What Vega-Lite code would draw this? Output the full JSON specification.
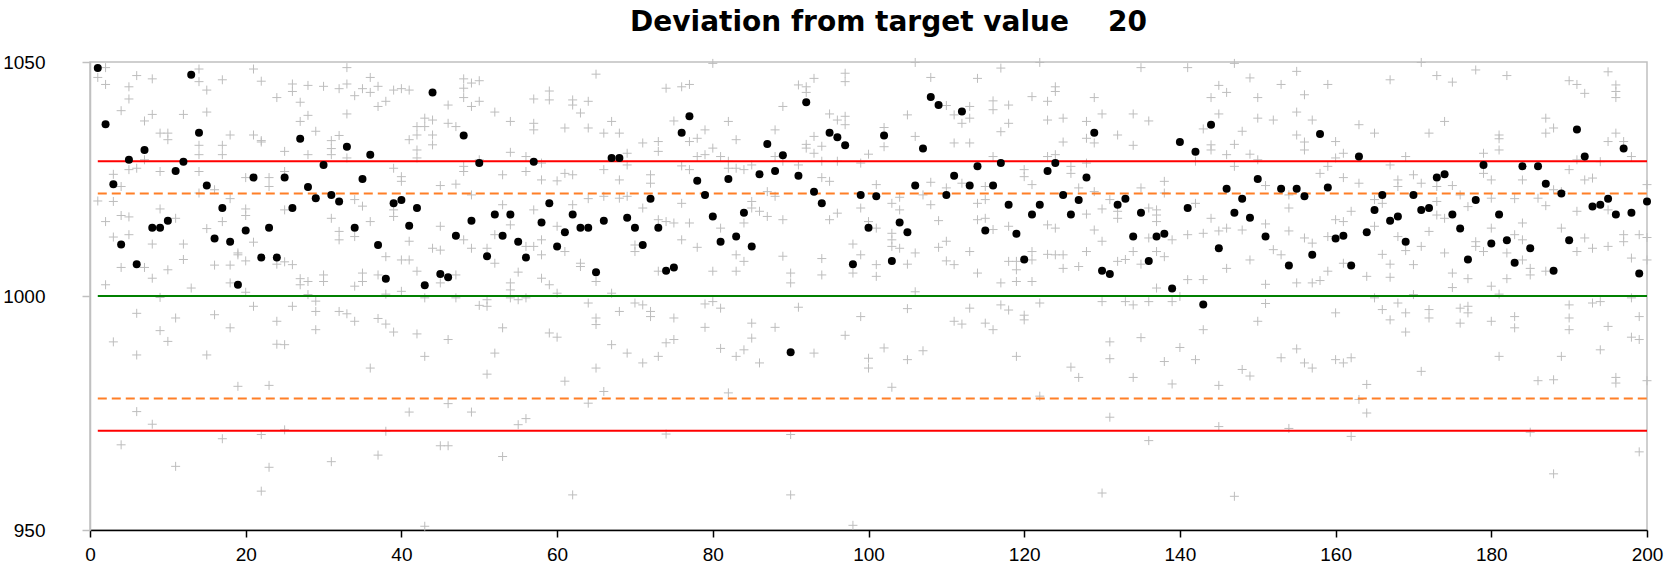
{
  "$schema": "https://vega.github.io/schema/vega-lite/v6.json",
  "width": 1557,
  "height": 468,
  "autosize": {"type": "none"},
  "padding": {"left": 90, "top": 62, "right": 33, "bottom": 47},
  "background": "white",
  "title": {
    "text": "Deviation from target value\u00a0\u00a0\u00a0\u00a020",
    "font": "DejaVu Sans",
    "fontSize": 28,
    "fontWeight": "bold",
    "color": "black",
    "anchor": "middle",
    "frame": "group",
    "dx": 20,
    "dy": 26,
    "baseline": "alphabetic",
    "offset": 20
  },
  "config": {
    "view": {"stroke": "#c0c0c0", "strokeWidth": 1.5},
    "axis": {
      "labelFont": "Liberation Sans",
      "labelFontSize": 19,
      "labelColor": "black",
      "labelFlush": false,
      "labelOverlap": false,
      "format": "d",
      "grid": false,
      "title": null
    }
  },
  "datasets": {
    "samples": [
      {"n":1,"v":1048.7},{"n":2,"v":1036.7},{"n":3,"v":1023.9},{"n":4,"v":1011.0},{"n":5,"v":1029.1},
      {"n":6,"v":1006.8},{"n":7,"v":1031.2},{"n":8,"v":1014.6},{"n":9,"v":1014.6},{"n":10,"v":1016.1},
      {"n":11,"v":1026.7},{"n":12,"v":1028.7},{"n":13,"v":1047.3},{"n":14,"v":1034.9},{"n":15,"v":1023.6},
      {"n":16,"v":1012.3},{"n":17,"v":1018.8},{"n":18,"v":1011.6},{"n":19,"v":1002.4},{"n":20,"v":1014.0},
      {"n":21,"v":1025.3},{"n":22,"v":1008.2},{"n":23,"v":1014.6},{"n":24,"v":1008.2},{"n":25,"v":1025.3},
      {"n":26,"v":1018.8},{"n":27,"v":1033.6},{"n":28,"v":1023.3},{"n":29,"v":1020.9},{"n":30,"v":1028.0},
      {"n":31,"v":1021.6},{"n":32,"v":1020.2},{"n":33,"v":1031.9},{"n":34,"v":1014.6},{"n":35,"v":1025.0},
      {"n":36,"v":1030.2},{"n":37,"v":1010.9},{"n":38,"v":1003.7},{"n":39,"v":1019.8},{"n":40,"v":1020.5},
      {"n":41,"v":1015.0},{"n":42,"v":1018.8},{"n":43,"v":1002.3},{"n":44,"v":1043.5},{"n":45,"v":1004.7},
      {"n":46,"v":1004.0},{"n":47,"v":1012.9},{"n":48,"v":1034.3},{"n":49,"v":1016.1},{"n":50,"v":1028.4},
      {"n":51,"v":1008.5},{"n":52,"v":1017.4},{"n":53,"v":1012.9},{"n":54,"v":1017.4},{"n":55,"v":1011.6},
      {"n":56,"v":1008.2},{"n":57,"v":1028.7},{"n":58,"v":1015.7},{"n":59,"v":1019.8},{"n":60,"v":1010.6},
      {"n":61,"v":1013.6},{"n":62,"v":1017.4},{"n":63,"v":1014.6},{"n":64,"v":1014.6},{"n":65,"v":1005.1},
      {"n":66,"v":1016.1},{"n":67,"v":1029.5},{"n":68,"v":1029.5},{"n":69,"v":1016.7},{"n":70,"v":1014.6},
      {"n":71,"v":1010.9},{"n":72,"v":1020.8},{"n":73,"v":1014.6},{"n":74,"v":1005.4},{"n":75,"v":1006.1},
      {"n":76,"v":1034.9},{"n":77,"v":1038.4},{"n":78,"v":1024.6},{"n":79,"v":1021.6},{"n":80,"v":1017.0},
      {"n":81,"v":1011.6},{"n":82,"v":1025.0},{"n":83,"v":1012.7},{"n":84,"v":1017.8},{"n":85,"v":1010.6},
      {"n":86,"v":1026.0},{"n":87,"v":1032.5},{"n":88,"v":1026.7},{"n":89,"v":1030.1},{"n":90,"v":988.0},
      {"n":91,"v":1025.7},{"n":92,"v":1041.4},{"n":93,"v":1022.3},{"n":94,"v":1019.8},{"n":95,"v":1034.9},
      {"n":96,"v":1033.9},{"n":97,"v":1032.2},{"n":98,"v":1006.8},{"n":99,"v":1021.6},{"n":100,"v":1014.6},
      {"n":101,"v":1021.3},{"n":102,"v":1034.3},{"n":103,"v":1007.5},{"n":104,"v":1015.7},{"n":105,"v":1013.6},
      {"n":106,"v":1023.6},{"n":107,"v":1031.5},{"n":108,"v":1042.5},{"n":109,"v":1040.8},{"n":110,"v":1021.6},
      {"n":111,"v":1025.7},{"n":112,"v":1039.4},{"n":113,"v":1023.6},{"n":114,"v":1027.7},{"n":115,"v":1014.0},
      {"n":116,"v":1023.6},{"n":117,"v":1028.4},{"n":118,"v":1019.5},{"n":119,"v":1013.3},{"n":120,"v":1007.8},
      {"n":121,"v":1017.4},{"n":122,"v":1019.5},{"n":123,"v":1026.7},{"n":124,"v":1028.4},{"n":125,"v":1021.6},
      {"n":126,"v":1017.4},{"n":127,"v":1020.5},{"n":128,"v":1025.3},{"n":129,"v":1034.9},{"n":130,"v":1005.4},
      {"n":131,"v":1004.7},{"n":132,"v":1019.5},{"n":133,"v":1020.8},{"n":134,"v":1012.7},{"n":135,"v":1017.8},
      {"n":136,"v":1007.5},{"n":137,"v":1012.7},{"n":138,"v":1013.3},{"n":139,"v":1001.6},{"n":140,"v":1032.9},
      {"n":141,"v":1018.8},{"n":142,"v":1030.8},{"n":143,"v":998.2},{"n":144,"v":1036.6},{"n":145,"v":1010.2},
      {"n":146,"v":1022.9},{"n":147,"v":1017.8},{"n":148,"v":1020.8},{"n":149,"v":1016.7},{"n":150,"v":1025.0},
      {"n":151,"v":1012.7},{"n":153,"v":1022.9},{"n":154,"v":1006.5},{"n":155,"v":1022.9},
      {"n":156,"v":1021.3},{"n":157,"v":1008.8},{"n":158,"v":1034.6},{"n":159,"v":1023.2},{"n":160,"v":1012.3},
      {"n":161,"v":1012.9},{"n":162,"v":1006.5},{"n":163,"v":1029.8},{"n":164,"v":1013.6},{"n":165,"v":1018.4},
      {"n":166,"v":1021.6},{"n":167,"v":1016.1},{"n":168,"v":1017.0},{"n":169,"v":1011.6},{"n":170,"v":1021.6},
      {"n":171,"v":1018.4},{"n":172,"v":1018.8},{"n":173,"v":1025.3},{"n":174,"v":1026.0},{"n":175,"v":1017.4},
      {"n":176,"v":1014.4},{"n":177,"v":1007.8},{"n":178,"v":1020.5},{"n":179,"v":1028.0},{"n":180,"v":1011.2},
      {"n":181,"v":1017.4},{"n":182,"v":1011.9},{"n":183,"v":1007.1},{"n":184,"v":1027.7},{"n":185,"v":1010.2},
      {"n":186,"v":1027.7},{"n":187,"v":1024.0},{"n":188,"v":1005.4},{"n":189,"v":1021.9},{"n":190,"v":1011.9},
      {"n":191,"v":1035.6},{"n":192,"v":1029.8},{"n":193,"v":1019.1},{"n":194,"v":1019.5},{"n":195,"v":1020.8},
      {"n":196,"v":1017.4},{"n":197,"v":1031.5},{"n":198,"v":1017.8},{"n":199,"v":1004.8},{"n":200,"v":1020.2}
    ],
    "readings": [
      {"n":1,"v":1046.7},{"n":1,"v":1020.3},
      {"n":2,"v":1048.8},{"n":2,"v":1045.2},{"n":2,"v":1015.9},{"n":2,"v":1002.4},
      {"n":3,"v":1026.0},{"n":3,"v":1020.2},{"n":3,"v":1012.6},{"n":3,"v":990.2},
      {"n":4,"v":1039.6},{"n":4,"v":1023.4},{"n":4,"v":1017.2},{"n":4,"v":1006.1},{"n":4,"v":968.2},
      {"n":5,"v":1044.7},{"n":5,"v":1042.1},{"n":5,"v":1027.0},{"n":5,"v":1016.9},{"n":5,"v":1013.1},
      {"n":6,"v":1047.1},{"n":6,"v":1027.3},{"n":6,"v":996.3},{"n":6,"v":987.4},{"n":6,"v":975.3},
      {"n":7,"v":1037.4},{"n":7,"v":1029.1},{"n":7,"v":1006.1},
      {"n":8,"v":1046.4},{"n":8,"v":1038.8},{"n":8,"v":1011.1},{"n":8,"v":1003.8},{"n":8,"v":972.6},
      {"n":9,"v":1034.8},{"n":9,"v":1026.6},{"n":9,"v":1018.6},{"n":9,"v":999.7},{"n":9,"v":992.6},
      {"n":10,"v":1034.8},{"n":10,"v":1033.4},{"n":10,"v":1005.6},{"n":10,"v":990.3},
      {"n":11,"v":1016.6},{"n":11,"v":995.3},{"n":11,"v":963.6},
      {"n":12,"v":1038.8},{"n":12,"v":1011.1},{"n":12,"v":1007.8},
      {"n":13,"v":1001.7},
      {"n":14,"v":1048.5},{"n":14,"v":1045.8},{"n":14,"v":1032.2},{"n":14,"v":1030.2},{"n":14,"v":1026.6},{"n":14,"v":1022.0},
      {"n":15,"v":1044.0},{"n":15,"v":1039.3},{"n":15,"v":1014.4},{"n":15,"v":987.4},
      {"n":16,"v":1022.7},{"n":16,"v":1006.6},{"n":16,"v":996.0},
      {"n":17,"v":1046.2},{"n":17,"v":1032.2},{"n":17,"v":1030.2},{"n":17,"v":1015.9},{"n":17,"v":969.5},
      {"n":18,"v":1034.4},{"n":18,"v":1020.8},{"n":18,"v":1006.6},{"n":18,"v":1002.8},{"n":18,"v":993.2},
      {"n":19,"v":1009.2},{"n":19,"v":1008.8},{"n":19,"v":980.7},
      {"n":20,"v":1025.3},{"n":20,"v":1018.6},{"n":20,"v":1017.2},{"n":20,"v":1007.5},{"n":20,"v":1000.8},
      {"n":21,"v":1048.5},{"n":21,"v":1034.4},{"n":21,"v":1011.5},{"n":21,"v":997.8},
      {"n":22,"v":1045.9},{"n":22,"v":1033.2},{"n":22,"v":1032.9},{"n":22,"v":970.4},{"n":22,"v":958.3},
      {"n":23,"v":1025.3},{"n":23,"v":1023.4},{"n":23,"v":980.9},{"n":23,"v":963.4},
      {"n":24,"v":1042.4},{"n":24,"v":1006.8},{"n":24,"v":994.6},{"n":24,"v":989.7},
      {"n":25,"v":1030.9},{"n":25,"v":1026.6},{"n":25,"v":1018.4},{"n":25,"v":1007.3},{"n":25,"v":989.6},{"n":25,"v":971.4},
      {"n":26,"v":1045.3},{"n":26,"v":1043.7},{"n":26,"v":1006.7},{"n":26,"v":997.8},
      {"n":27,"v":1041.4},{"n":27,"v":1037.3},{"n":27,"v":1003.7},{"n":27,"v":1002.4},
      {"n":28,"v":1045.0},{"n":28,"v":1038.6},{"n":28,"v":1030.2},{"n":28,"v":1003.1},{"n":28,"v":1000.3},
      {"n":29,"v":1035.2},{"n":29,"v":998.9},{"n":29,"v":996.7},{"n":29,"v":992.8},
      {"n":30,"v":1044.8},{"n":30,"v":1004.5},{"n":30,"v":1003.1},
      {"n":31,"v":1033.2},{"n":31,"v":1031.5},{"n":31,"v":1030.2},{"n":31,"v":1016.6},{"n":31,"v":964.6},
      {"n":32,"v":1044.3},{"n":32,"v":1034.3},{"n":32,"v":1013.8},{"n":32,"v":1012.0},{"n":32,"v":996.7},
      {"n":33,"v":1048.8},{"n":33,"v":1045.3},{"n":33,"v":1038.9},{"n":33,"v":1029.5},{"n":33,"v":996.2},
      {"n":34,"v":1042.8},{"n":34,"v":1020.6},{"n":34,"v":1012.7},{"n":34,"v":1002.1},{"n":34,"v":994.6},
      {"n":35,"v":1044.3},{"n":35,"v":1019.2},{"n":35,"v":1004.9},{"n":35,"v":1003.1},
      {"n":36,"v":1046.7},{"n":36,"v":1043.5},{"n":36,"v":1015.9},{"n":36,"v":984.6},
      {"n":37,"v":1044.8},{"n":37,"v":1040.5},{"n":37,"v":1004.5},{"n":37,"v":995.2},{"n":37,"v":966.0},
      {"n":38,"v":1041.6},{"n":38,"v":1008.4},{"n":38,"v":1000.4},{"n":38,"v":994.0},{"n":38,"v":971.1},
      {"n":39,"v":1044.0},{"n":39,"v":1027.3},{"n":39,"v":1018.4},{"n":39,"v":1017.0},{"n":39,"v":992.3},
      {"n":40,"v":1044.3},{"n":40,"v":1025.5},{"n":40,"v":1024.5},{"n":40,"v":1007.7},{"n":40,"v":1001.0},
      {"n":41,"v":1044.0},{"n":41,"v":1033.4},{"n":41,"v":1011.7},{"n":41,"v":1007.7},{"n":41,"v":975.2},
      {"n":42,"v":1036.2},{"n":42,"v":1034.4},{"n":42,"v":1031.2},{"n":42,"v":1029.5},{"n":42,"v":1005.3},{"n":42,"v":991.9},
      {"n":43,"v":1038.0},{"n":43,"v":1036.2},{"n":43,"v":999.6},{"n":43,"v":987.1},{"n":43,"v":950.8},
      {"n":44,"v":1037.6},{"n":44,"v":1034.4},{"n":44,"v":1032.3},{"n":44,"v":1010.2},
      {"n":45,"v":1023.6},{"n":45,"v":1014.9},{"n":45,"v":1009.8},{"n":45,"v":1002.8},{"n":45,"v":968.0},
      {"n":46,"v":1040.8},{"n":46,"v":1036.9},{"n":46,"v":990.7},{"n":46,"v":977.0},{"n":46,"v":968.0},
      {"n":47,"v":1036.2},{"n":47,"v":1023.9},{"n":47,"v":1004.5},{"n":47,"v":999.6},
      {"n":48,"v":1046.4},{"n":48,"v":1044.4},{"n":48,"v":1042.4},{"n":48,"v":1027.7},{"n":48,"v":1026.6},{"n":48,"v":1012.0},
      {"n":49,"v":1045.5},{"n":49,"v":1040.5},{"n":49,"v":1021.6},{"n":49,"v":1010.2},{"n":49,"v":975.2},
      {"n":50,"v":1046.0},{"n":50,"v":1041.6},{"n":50,"v":1029.1},{"n":50,"v":998.0},
      {"n":51,"v":1010.2},{"n":51,"v":999.2},{"n":51,"v":997.8},{"n":51,"v":983.3},
      {"n":52,"v":1039.3},{"n":52,"v":1013.1},{"n":52,"v":1007.0},{"n":52,"v":987.8},
      {"n":53,"v":1025.9},{"n":53,"v":1019.5},{"n":53,"v":993.2},{"n":53,"v":965.7},
      {"n":54,"v":1037.3},{"n":54,"v":1030.7},{"n":54,"v":1015.2},{"n":54,"v":1002.8},{"n":54,"v":1001.3},{"n":54,"v":999.6},
      {"n":55,"v":1005.1},{"n":55,"v":999.2},{"n":55,"v":972.5},
      {"n":56,"v":1029.8},{"n":56,"v":1026.6},{"n":56,"v":1010.6},{"n":56,"v":999.6},{"n":56,"v":973.8},
      {"n":57,"v":1042.1},{"n":57,"v":1036.9},{"n":57,"v":1035.5},{"n":57,"v":1018.4},{"n":57,"v":1010.6},
      {"n":58,"v":1028.4},{"n":58,"v":1024.8},{"n":58,"v":1012.0},{"n":58,"v":1008.8},{"n":58,"v":1003.8},
      {"n":59,"v":1043.8},{"n":59,"v":1041.9},{"n":59,"v":1002.4},{"n":59,"v":992.1},
      {"n":60,"v":1024.6},{"n":60,"v":1014.9},{"n":60,"v":1000.6},{"n":60,"v":991.2},
      {"n":61,"v":1035.9},{"n":61,"v":1026.2},{"n":61,"v":1009.5},{"n":61,"v":981.8},
      {"n":62,"v":1041.9},{"n":62,"v":1040.8},{"n":62,"v":1025.9},{"n":62,"v":1019.5},{"n":62,"v":957.5},
      {"n":63,"v":1039.1},{"n":63,"v":1007.0},{"n":63,"v":1006.3},
      {"n":64,"v":1041.6},{"n":64,"v":1035.9},{"n":64,"v":1020.8},{"n":64,"v":998.5},{"n":64,"v":977.1},
      {"n":65,"v":1047.4},{"n":65,"v":1003.1},{"n":65,"v":995.3},{"n":65,"v":993.9},{"n":65,"v":984.6},
      {"n":66,"v":1034.8},{"n":66,"v":1027.0},{"n":66,"v":1021.3},{"n":66,"v":979.6},
      {"n":67,"v":1037.3},{"n":67,"v":1000.6},{"n":67,"v":989.6},
      {"n":68,"v":1034.8},{"n":68,"v":1024.8},{"n":68,"v":1020.9},{"n":68,"v":996.7},
      {"n":69,"v":1030.5},{"n":69,"v":1028.0},{"n":69,"v":1021.3},{"n":69,"v":987.8},
      {"n":70,"v":1010.9},{"n":70,"v":1009.5},{"n":70,"v":998.5},
      {"n":71,"v":1032.7},{"n":71,"v":1018.8},{"n":71,"v":998.1},{"n":71,"v":985.7},
      {"n":72,"v":1025.9},{"n":72,"v":1024.1},{"n":72,"v":996.7},{"n":72,"v":995.6},
      {"n":73,"v":1033.0},{"n":73,"v":1030.9},{"n":73,"v":1016.3},{"n":73,"v":1005.3},{"n":73,"v":987.1},
      {"n":74,"v":1044.4},{"n":74,"v":1015.9},{"n":74,"v":990.0},{"n":74,"v":970.5},
      {"n":75,"v":1037.4},{"n":75,"v":1015.6},{"n":75,"v":995.3},{"n":75,"v":990.7},
      {"n":76,"v":1044.7},{"n":76,"v":1027.8},{"n":76,"v":1019.8},{"n":76,"v":1012.0},
      {"n":77,"v":1045.2},{"n":77,"v":1033.0},{"n":77,"v":1027.0},{"n":77,"v":1015.6},
      {"n":78,"v":1033.7},{"n":78,"v":1029.8},{"n":78,"v":1010.4},
      {"n":79,"v":1035.5},{"n":79,"v":1030.2},{"n":79,"v":998.3},{"n":79,"v":993.3},
      {"n":80,"v":1049.7},{"n":80,"v":1031.6},{"n":80,"v":1005.3},{"n":80,"v":998.8},
      {"n":81,"v":1029.8},{"n":81,"v":1014.5},{"n":81,"v":997.4},{"n":81,"v":988.8},
      {"n":82,"v":1037.3},{"n":82,"v":1028.8},{"n":82,"v":1027.3},{"n":82,"v":979.3},
      {"n":83,"v":1033.4},{"n":83,"v":1027.3},{"n":83,"v":1008.8},{"n":83,"v":1005.3},{"n":83,"v":987.1},
      {"n":84,"v":1027.0},{"n":84,"v":1015.6},{"n":84,"v":1007.4},{"n":84,"v":988.5},
      {"n":85,"v":1028.0},{"n":85,"v":1020.2},{"n":85,"v":1018.8},{"n":85,"v":994.2},{"n":85,"v":991.0},
      {"n":86,"v":1018.1},{"n":86,"v":985.7},
      {"n":87,"v":1022.3},{"n":87,"v":1017.0},
      {"n":88,"v":1035.5},{"n":88,"v":1029.8},{"n":88,"v":1021.3},{"n":88,"v":993.3},
      {"n":89,"v":1040.5},{"n":89,"v":1028.8},{"n":89,"v":1016.3},{"n":89,"v":1008.5},
      {"n":90,"v":1004.9},{"n":90,"v":1002.8},{"n":90,"v":970.4},{"n":90,"v":957.5},
      {"n":91,"v":1045.1},{"n":91,"v":1028.0},{"n":91,"v":997.6},
      {"n":92,"v":1044.7},{"n":92,"v":1043.5},{"n":92,"v":1032.4},{"n":92,"v":1031.6},
      {"n":93,"v":1046.5},{"n":93,"v":1034.1},{"n":93,"v":1030.5},{"n":93,"v":987.8},
      {"n":94,"v":1032.0},{"n":94,"v":1028.8},{"n":94,"v":1025.3},{"n":94,"v":1008.0},{"n":94,"v":1004.5},
      {"n":95,"v":1038.9},{"n":95,"v":1024.5},{"n":95,"v":1016.3},
      {"n":96,"v":1037.6},{"n":96,"v":1028.8},{"n":96,"v":1017.7},
      {"n":97,"v":1047.6},{"n":97,"v":1045.8},{"n":97,"v":1038.4},{"n":97,"v":1036.6},{"n":97,"v":991.6},
      {"n":98,"v":1011.1},{"n":98,"v":1004.9},{"n":98,"v":951.0},
      {"n":99,"v":1028.4},{"n":99,"v":1018.8},{"n":99,"v":1008.8},{"n":99,"v":995.6},
      {"n":100,"v":1030.3},{"n":100,"v":1015.9},{"n":100,"v":986.7},{"n":100,"v":984.6},
      {"n":101,"v":1023.8},{"n":101,"v":1014.5},{"n":101,"v":1006.7},{"n":101,"v":1004.2},
      {"n":102,"v":1036.0},{"n":102,"v":1031.9},{"n":102,"v":988.9},
      {"n":103,"v":1019.8},{"n":103,"v":1013.4},{"n":103,"v":1012.0},{"n":103,"v":1010.6},{"n":103,"v":980.5},
      {"n":104,"v":1021.1},{"n":104,"v":1018.4},{"n":104,"v":1010.2},
      {"n":105,"v":1038.7},{"n":105,"v":1006.8},{"n":105,"v":997.3},{"n":105,"v":986.4},
      {"n":106,"v":1049.9},{"n":106,"v":1034.1},{"n":106,"v":1009.2},{"n":106,"v":1000.9},
      {"n":107,"v":1021.6},{"n":107,"v":988.3},
      {"n":108,"v":1046.7},{"n":108,"v":1024.3},{"n":108,"v":1019.5},
      {"n":109,"v":1016.1},{"n":109,"v":1010.4},
      {"n":110,"v":1040.7},{"n":110,"v":1023.1},{"n":110,"v":1011.7},{"n":110,"v":1007.5},
      {"n":111,"v":1038.7},{"n":111,"v":1032.7},{"n":111,"v":1006.7},{"n":111,"v":994.6},
      {"n":112,"v":1036.9},{"n":112,"v":1024.1},{"n":112,"v":994.0},
      {"n":113,"v":1040.5},{"n":113,"v":1038.0},{"n":113,"v":1032.7},{"n":113,"v":1009.5},{"n":113,"v":997.4},
      {"n":114,"v":1046.5},{"n":114,"v":1019.8},{"n":114,"v":1016.3},{"n":114,"v":1004.9},
      {"n":115,"v":1023.4},{"n":115,"v":1020.6},{"n":115,"v":1016.6},{"n":115,"v":994.2},
      {"n":116,"v":1041.7},{"n":116,"v":1039.8},{"n":116,"v":1029.8},{"n":116,"v":1014.2},{"n":116,"v":992.8},
      {"n":117,"v":1048.7},{"n":117,"v":1035.1},{"n":117,"v":1002.8},{"n":117,"v":998.1},
      {"n":118,"v":1040.8},{"n":118,"v":1036.9},{"n":118,"v":1014.9},{"n":118,"v":1007.4},{"n":118,"v":997.0},
      {"n":119,"v":1007.4},{"n":119,"v":1005.6},{"n":119,"v":1003.1},{"n":119,"v":987.1},
      {"n":120,"v":1027.0},{"n":120,"v":1025.5},{"n":120,"v":995.9},{"n":120,"v":994.9},
      {"n":121,"v":1042.6},{"n":121,"v":1023.8},{"n":121,"v":1009.5},{"n":121,"v":1007.7},{"n":121,"v":1003.1},
      {"n":122,"v":1049.9},{"n":122,"v":998.5},{"n":122,"v":978.6},
      {"n":123,"v":1041.6},{"n":123,"v":1037.6},{"n":123,"v":1029.8},{"n":123,"v":1015.2},{"n":123,"v":1008.9},
      {"n":124,"v":1044.7},{"n":124,"v":1043.7},{"n":124,"v":1030.2},{"n":124,"v":1014.5},{"n":124,"v":1008.8},
      {"n":125,"v":1038.0},{"n":125,"v":1032.9},{"n":125,"v":1008.8},{"n":125,"v":1005.9},
      {"n":126,"v":1027.7},{"n":126,"v":1026.2},{"n":126,"v":984.8},
      {"n":127,"v":1023.1},{"n":127,"v":1006.3},{"n":127,"v":982.6},
      {"n":128,"v":1037.3},{"n":128,"v":1033.7},{"n":128,"v":1028.4},{"n":128,"v":1017.5},{"n":128,"v":1009.5},
      {"n":129,"v":1042.4},{"n":129,"v":1032.7},{"n":129,"v":1022.3},{"n":129,"v":1014.1},
      {"n":130,"v":1038.9},{"n":130,"v":1018.6},{"n":130,"v":1011.7},{"n":130,"v":998.8},{"n":130,"v":957.9},
      {"n":131,"v":1020.6},{"n":131,"v":990.2},{"n":131,"v":986.6},{"n":131,"v":974.1},
      {"n":132,"v":1034.4},{"n":132,"v":1018.1},{"n":132,"v":1016.6},{"n":132,"v":1007.4},
      {"n":133,"v":1007.8},{"n":133,"v":998.8},
      {"n":134,"v":1038.9},{"n":134,"v":1032.2},{"n":134,"v":1009.5},{"n":134,"v":998.1},{"n":134,"v":982.6},
      {"n":135,"v":1048.8},{"n":135,"v":1023.1},{"n":135,"v":1006.8},{"n":135,"v":991.1},
      {"n":136,"v":1037.4},{"n":136,"v":1018.8},{"n":136,"v":1012.4},{"n":136,"v":998.8},{"n":136,"v":969.1},
      {"n":137,"v":1018.4},{"n":137,"v":1017.3},{"n":137,"v":1015.9},{"n":137,"v":1009.5},{"n":137,"v":1001.7},
      {"n":138,"v":1024.5},{"n":138,"v":1022.0},{"n":138,"v":1008.4},{"n":138,"v":986.0},
      {"n":139,"v":1012.0},{"n":139,"v":998.8},{"n":139,"v":981.2},
      {"n":140,"v":999.9},{"n":140,"v":989.0},
      {"n":141,"v":1048.8},{"n":141,"v":1013.1},{"n":141,"v":1003.5},
      {"n":142,"v":1028.8},{"n":142,"v":1019.8},{"n":142,"v":986.4},
      {"n":143,"v":1035.7},{"n":143,"v":1013.4},{"n":143,"v":1003.5},{"n":143,"v":992.8},
      {"n":144,"v":1042.4},{"n":144,"v":1032.3},{"n":144,"v":1031.2},{"n":144,"v":1016.6},
      {"n":145,"v":1045.0},{"n":145,"v":1038.9},{"n":145,"v":1013.9},{"n":145,"v":980.9},{"n":145,"v":972.1},
      {"n":146,"v":1043.5},{"n":146,"v":1030.2},{"n":146,"v":1014.5},{"n":146,"v":1005.9},
      {"n":147,"v":1049.7},{"n":147,"v":1032.4},{"n":147,"v":1027.7},{"n":147,"v":957.2},
      {"n":148,"v":1035.2},{"n":148,"v":1014.1},{"n":148,"v":984.3},
      {"n":149,"v":1046.6},{"n":149,"v":1030.3},{"n":149,"v":1007.7},{"n":149,"v":982.9},
      {"n":150,"v":1042.4},{"n":150,"v":1038.0},{"n":150,"v":1029.1},{"n":150,"v":994.6},
      {"n":151,"v":1023.6},{"n":151,"v":1015.4},{"n":151,"v":1002.5},{"n":151,"v":998.4},
      {"n":152,"v":1037.6},{"n":152,"v":1009.9},
      {"n":153,"v":1045.2},{"n":153,"v":1008.8},{"n":153,"v":986.8},
      {"n":154,"v":1021.6},{"n":154,"v":1018.8},{"n":154,"v":1013.9},{"n":154,"v":971.7},
      {"n":155,"v":1048.0},{"n":155,"v":1039.3},{"n":155,"v":1034.4},{"n":155,"v":1002.8},{"n":155,"v":988.7},
      {"n":156,"v":1043.0},{"n":156,"v":1032.9},{"n":156,"v":1031.2},{"n":156,"v":1012.4},{"n":156,"v":985.7},
      {"n":157,"v":1037.6},{"n":157,"v":1011.3},{"n":157,"v":1002.8},{"n":157,"v":984.6},
      {"n":158,"v":1026.2},{"n":158,"v":1003.3},
      {"n":159,"v":1045.2},{"n":159,"v":1027.7},{"n":159,"v":1012.7},{"n":159,"v":1005.3},
      {"n":160,"v":1033.0},{"n":160,"v":1029.5},{"n":160,"v":1016.3},{"n":160,"v":996.4},{"n":160,"v":986.4},
      {"n":161,"v":1030.5},{"n":161,"v":1025.3},{"n":161,"v":1015.9},{"n":161,"v":1007.0},{"n":161,"v":985.7},
      {"n":162,"v":1018.1},{"n":162,"v":986.8},{"n":162,"v":970.0},
      {"n":163,"v":1036.6},{"n":163,"v":1024.1},{"n":163,"v":977.9},
      {"n":164,"v":1004.2},{"n":164,"v":981.1},{"n":164,"v":975.0},
      {"n":165,"v":1034.8},{"n":165,"v":1020.6},{"n":165,"v":1014.9},{"n":165,"v":999.6},
      {"n":166,"v":1019.8},{"n":166,"v":1008.9},{"n":166,"v":997.1},
      {"n":167,"v":1046.2},{"n":167,"v":1028.0},{"n":167,"v":1006.8},{"n":167,"v":1004.0},{"n":167,"v":994.9},
      {"n":168,"v":1024.8},{"n":168,"v":1023.4},{"n":168,"v":1012.7},{"n":168,"v":998.5},
      {"n":169,"v":1029.8},{"n":169,"v":1009.7},{"n":169,"v":996.4},{"n":169,"v":992.3},
      {"n":170,"v":1025.9},{"n":170,"v":1006.7},{"n":170,"v":1000.3},
      {"n":171,"v":1049.9},{"n":171,"v":1024.1},{"n":171,"v":1010.6},{"n":171,"v":983.9},
      {"n":172,"v":1034.8},{"n":172,"v":1013.8},{"n":172,"v":997.1},{"n":172,"v":995.3},
      {"n":173,"v":1047.1},{"n":173,"v":1023.4},{"n":173,"v":1020.2},{"n":173,"v":1017.3},
      {"n":174,"v":1037.3},{"n":174,"v":1016.6},{"n":174,"v":1009.2},
      {"n":175,"v":1045.7},{"n":175,"v":1023.6},{"n":175,"v":1004.9},{"n":175,"v":1001.8},
      {"n":176,"v":1021.6},{"n":176,"v":997.4},{"n":176,"v":994.2},
      {"n":177,"v":1019.1},{"n":177,"v":1003.7},{"n":177,"v":997.8},{"n":177,"v":996.4},
      {"n":178,"v":1048.3},{"n":178,"v":1011.6},{"n":178,"v":1010.6},
      {"n":179,"v":1030.5},{"n":179,"v":1026.2},{"n":179,"v":1009.5},
      {"n":180,"v":1024.8},{"n":180,"v":1020.9},{"n":180,"v":1014.5},{"n":180,"v":1002.1},{"n":180,"v":994.6},
      {"n":181,"v":1034.4},{"n":181,"v":1033.6},{"n":181,"v":1031.2},{"n":181,"v":1000.4},{"n":181,"v":987.1},
      {"n":182,"v":1047.1},{"n":182,"v":1009.2},{"n":182,"v":1003.7},
      {"n":183,"v":1020.8},{"n":183,"v":1013.1},{"n":183,"v":995.6},{"n":183,"v":993.2},
      {"n":184,"v":1024.8},{"n":184,"v":1015.6},{"n":184,"v":1012.0},{"n":184,"v":1007.7},
      {"n":185,"v":1005.9},{"n":185,"v":1004.5},{"n":185,"v":970.9},
      {"n":186,"v":1020.9},{"n":186,"v":981.9},
      {"n":187,"v":1038.0},{"n":187,"v":1034.8},{"n":187,"v":1019.3},{"n":187,"v":1005.3},
      {"n":188,"v":1035.9},{"n":188,"v":1022.7},{"n":188,"v":982.1},{"n":188,"v":962.0},
      {"n":189,"v":1022.3},{"n":189,"v":1014.5},{"n":189,"v":987.1},
      {"n":190,"v":1046.0},{"n":190,"v":1027.0},{"n":190,"v":998.1},{"n":190,"v":995.3},{"n":190,"v":992.8},
      {"n":191,"v":1045.2},{"n":191,"v":1029.1},{"n":191,"v":1018.1},{"n":191,"v":1009.5},
      {"n":192,"v":1043.3},{"n":192,"v":1024.8},{"n":192,"v":1012.4},
      {"n":193,"v":1025.2},{"n":193,"v":1010.2},{"n":193,"v":998.5},
      {"n":194,"v":1028.7},{"n":194,"v":998.8},{"n":194,"v":988.5},
      {"n":195,"v":1047.9},{"n":195,"v":1033.0},{"n":195,"v":1018.4},{"n":195,"v":1010.6},{"n":195,"v":993.5},
      {"n":196,"v":1045.1},{"n":196,"v":1043.7},{"n":196,"v":1042.4},{"n":196,"v":1034.8},{"n":196,"v":982.6},{"n":196,"v":981.4},
      {"n":197,"v":1033.0},{"n":197,"v":1013.1},{"n":197,"v":1011.6},
      {"n":198,"v":1029.8},{"n":198,"v":1008.1},{"n":198,"v":999.6},{"n":198,"v":991.2},
      {"n":199,"v":1013.1},{"n":199,"v":995.6},{"n":199,"v":990.7},{"n":199,"v":966.7},
      {"n":200,"v":1023.8},{"n":200,"v":1012.5},{"n":200,"v":1007.7},{"n":200,"v":981.9}
    ],
    "limits": [
      {"level": 1000, "line": "target"},
      {"level": 1021.9, "line": "warning"},
      {"level": 978.1, "line": "warning"},
      {"level": 1028.8, "line": "action"},
      {"level": 971.2, "line": "action"}
    ]
  },
  "layer": [
    {
      "data": {"name": "readings"},
      "mark": {
        "type": "point",
        "shape": "M-1,0H1M0,-1V1",
        "filled": false,
        "stroke": "#bdbdbd",
        "strokeWidth": 1,
        "size": 81,
        "opacity": 1
      },
      "encoding": {
        "x": {
          "field": "n",
          "type": "quantitative",
          "scale": {"domain": [0, 200], "nice": false, "zero": false},
          "axis": {
            "values": [0, 20, 40, 60, 80, 100, 120, 140, 160, 180, 200],
            "domainColor": "black",
            "domainWidth": 1.5,
            "tickColor": "black",
            "tickWidth": 1.5,
            "tickSize": 7,
            "labelPadding": 8
          }
        },
        "y": {
          "field": "v",
          "type": "quantitative",
          "scale": {"domain": [950, 1050], "nice": false, "zero": false},
          "axis": {
            "values": [950, 1000, 1050],
            "domainColor": "#c0c0c0",
            "domainWidth": 1.5,
            "tickColor": "#c0c0c0",
            "tickWidth": 1.5,
            "tickSize": 8,
            "labelPadding": 37
          }
        }
      }
    },
    {
      "data": {"name": "limits"},
      "mark": {"type": "rule", "strokeWidth": 2},
      "encoding": {
        "y": {"field": "level", "type": "quantitative"},
        "x": {"datum": 1, "type": "quantitative"},
        "x2": {"datum": 200},
        "color": {
          "field": "line",
          "type": "nominal",
          "scale": {"domain": ["target", "warning", "action"], "range": ["#008000", "#ff7f27", "#ff0000"]},
          "legend": null
        },
        "strokeDash": {
          "field": "line",
          "type": "nominal",
          "scale": {"domain": ["target", "warning", "action"], "range": [[1, 0], [9, 5], [1, 0]]},
          "legend": null
        }
      }
    },
    {
      "data": {"name": "samples"},
      "mark": {"type": "circle", "size": 64, "color": "black", "opacity": 1},
      "encoding": {
        "x": {"field": "n", "type": "quantitative"},
        "y": {"field": "v", "type": "quantitative"}
      }
    }
  ]
}
